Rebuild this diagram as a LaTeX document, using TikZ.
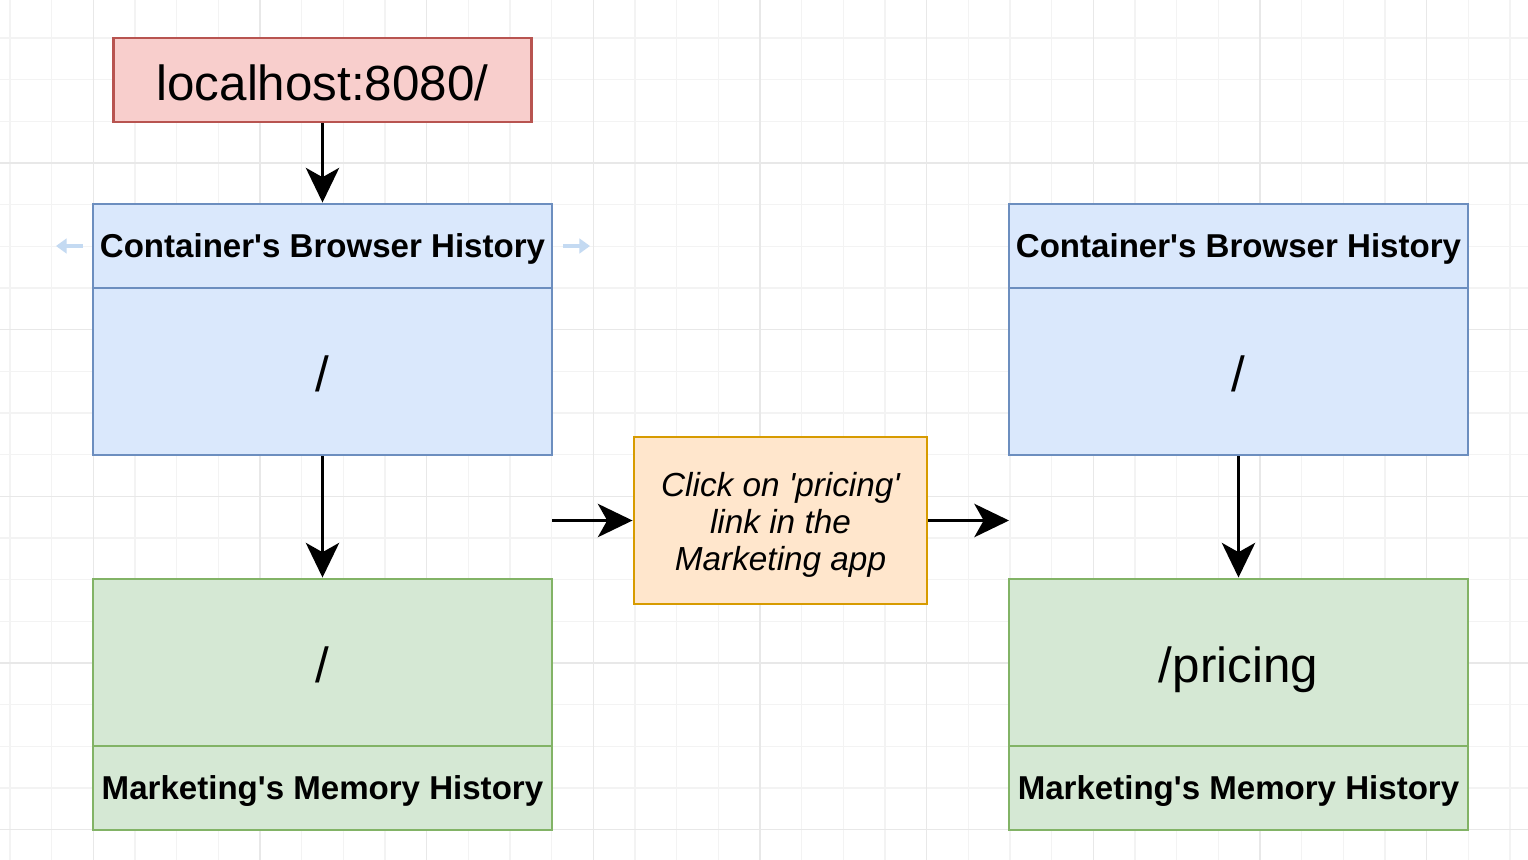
\documentclass[tikz,border=0pt]{standalone}
\usepackage{fontspec}
\setmainfont{Liberation Sans}[Ligatures=TeXOff]
\usetikzlibrary{arrows.meta}
\definecolor{bluefill}{HTML}{DAE8FC}
\definecolor{blueline}{HTML}{6C8EBF}
\definecolor{greenfill}{HTML}{D5E8D4}
\definecolor{greenline}{HTML}{82B366}
\definecolor{redfill}{HTML}{F8CECC}
\definecolor{redline}{HTML}{B85450}
\definecolor{orangefill}{HTML}{FFE6CC}
\definecolor{orangeline}{HTML}{D79B00}
\definecolor{gridminor}{HTML}{F3F3F3}
\definecolor{gridmajor}{HTML}{E8E8E8}
\definecolor{handle}{HTML}{C4DAF2}
\begin{document}
\begin{tikzpicture}[x=0.75pt,y=-0.75pt,
  box/.style={draw, line width=2.2pt, inner sep=0pt, align=center, text=black},
  size/.style 2 args={minimum width=#1*0.75pt, minimum height=#2*0.75pt},
  bluebox/.style={box, fill=bluefill, draw=blueline},
  greenbox/.style={box, fill=greenfill, draw=greenline},
  redbox/.style={box, fill=redfill, draw=redline},
  orangebox/.style={box, fill=orangefill, draw=orangeline},
  bigtext/.style={font=\fontsize{37}{44}\selectfont, text height=30pt, text depth=0pt},
  labeltext/.style={font=\bfseries\fontsize{24.8}{30}\selectfont, text height=17.5pt, text depth=0pt},
  notetext/.style={font=\itshape\fontsize{25}{27.75}\selectfont},
  flow/.style={line width=2.2pt, -{Stealth[length=26pt,width=25pt,inset=7pt]}},
]
\useasboundingbox (0,0) rectangle (1528,860);
\fill[white] (0,0) rectangle (1528,860);

% background grid
\foreach \i in {0,...,36} {
  \draw[gridminor, line width=0.8pt] ({10+41.667*\i},0) -- ({10+41.667*\i},860);
}
\foreach \j in {0,...,21} {
  \draw[gridminor, line width=0.8pt] (0,{-3.667+41.667*\j}) -- (1528,{-3.667+41.667*\j});
}
\foreach \i in {0,...,8} {
  \draw[gridmajor, line width=0.9pt] ({93.33+166.667*\i},0) -- ({93.33+166.667*\i},860);
}
\foreach \j in {0,...,4} {
  \draw[gridmajor, line width=0.9pt] (0,{163+166.667*\j}) -- (1528,{163+166.667*\j});
}

% entry URL
\node[redbox, size={418}{84}, bigtext] (url) at (322.5,80) {localhost:8080/};

% left column: state before the click
\node[bluebox, size={459}{84}, labeltext] (lhead) at (322.5,246) {Container's Browser History};
\node[bluebox, size={459}{167}, bigtext] (lbody) at (322.5,371.5) {/};
\node[greenbox, size={459}{167}, bigtext] (lmem) at (322.5,662.5) {/};
\node[greenbox, size={459}{84}, labeltext] (lfoot) at (322.5,788) {Marketing's Memory History};

% right column: state after the click
\node[bluebox, size={459}{84}, labeltext] (rhead) at (1238.5,246) {Container's Browser History};
\node[bluebox, size={459}{167}, bigtext] (rbody) at (1238.5,371.5) {/};
\node[greenbox, size={459}{167}, bigtext] (rmem) at (1238.5,662.5) {/pricing};
\node[greenbox, size={459}{84}, labeltext] (rfoot) at (1238.5,788) {Marketing's Memory History};

% the user action (extra top room lowers the three lines a little)
\node[orangebox, size={293}{167}, notetext] (click) at (780.5,520.5)
  {\raisebox{0pt}[\dimexpr\height+9pt\relax][\depth]{\begin{tabular}{@{}c@{}}Click on 'pricing'\\link in the\\Marketing app\end{tabular}}};

% selection handles beside the header
\draw[handle, line width=2.4pt, -{Triangle[length=8pt,width=11pt]}] (83,246) -- (56,246);
\draw[handle, line width=2.4pt, -{Triangle[length=8pt,width=11pt]}] (563,246) -- (590,246);

% connectors
\coordinate (lout) at (552,520.5);
\coordinate (rin) at (1009,520.5);
\draw[flow] (url) -- (lhead);
\draw[flow] (lbody) -- (lmem);
\draw[flow] (rbody) -- (rmem);
\draw[flow] (lout) -- (click);
\draw[flow] (click) -- (rin);
\end{tikzpicture}
\end{document}
